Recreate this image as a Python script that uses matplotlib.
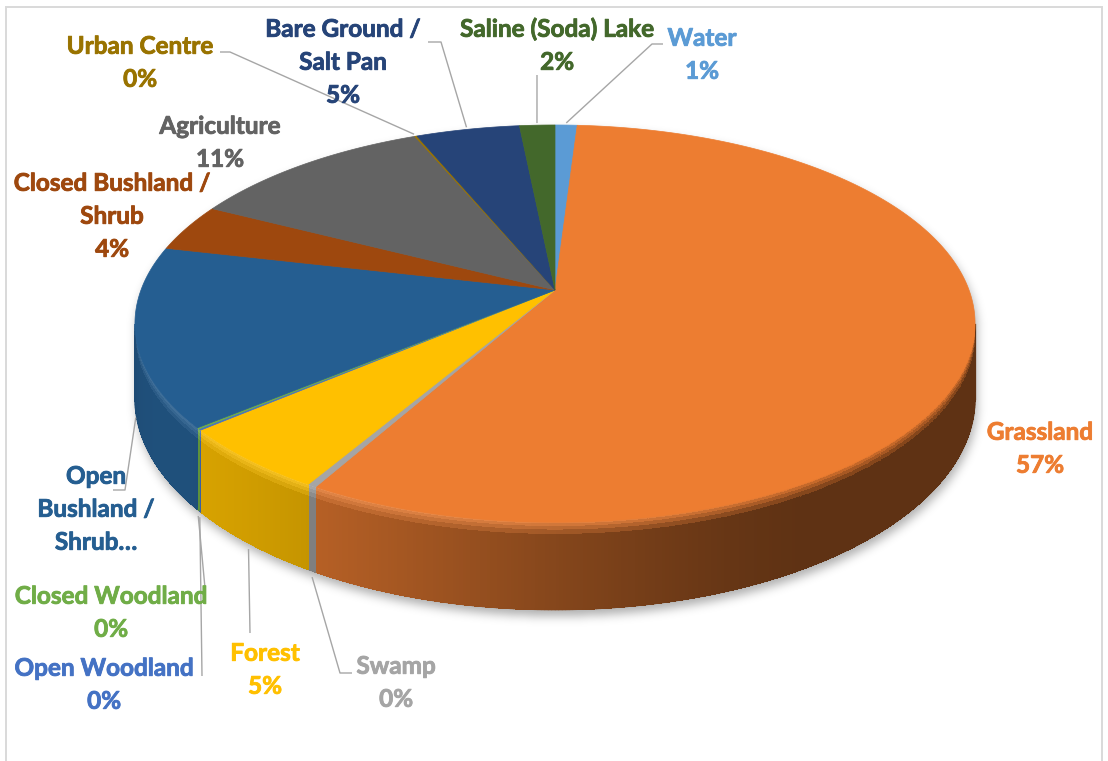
import numpy as np
import matplotlib
matplotlib.use("Agg")
import matplotlib.pyplot as plt
import matplotlib.patheffects as pe
from matplotlib.collections import PolyCollection, LineCollection
from matplotlib.colors import to_rgb

# ---- data -------------------------------------------------------------
categories = ["Water", "Grassland", "Swamp", "Forest", "Open Woodland",
              "Closed Woodland", "Open Bushland / Shrub",
              "Closed Bushland / Shrub", "Agriculture", "Urban Centre",
              "Bare Ground / Salt Pan", "Saline (Soda) Lake"]
shares = [1.0, 57.2, 0.3, 5.3, 0.1, 0.1, 14.6, 3.9, 11.1, 0.1, 4.7, 1.6]
colors = ["#5B9BD5", "#ED7D31", "#A5A5A5", "#FFC000", "#4472C4", "#70AD47",
          "#255E91", "#9E480E", "#636363", "#997300", "#264478", "#43682B"]
label_lines = [["Water"], ["Grassland"], ["Swamp"], ["Forest"],
               ["Open Woodland"], ["Closed Woodland"],
               ["Open", "Bushland /", "Shrub…"], ["Closed Bushland /", "Shrub"],
               ["Agriculture"], ["Urban Centre"], ["Bare Ground /", "Salt Pan"],
               ["Saline (Soda) Lake"]]
show_percent = [True, True, True, True, True, True,
                False, True, True, True, True, True]

# ---- layout -----------------------------------------------------------
W, H = 1108, 761
cx, cy = 555.0, 290.0        # pie apex on screen
a, b = 414.0, 192.9          # plan radii
k = 0.169                    # perspective strength
depth = 73.0                 # wall height
FONT = "Lato"
FS = 17.5
LINE_STEP = 33

label_pos = {
    0: (702, 37), 1: (1040, 431), 2: (396, 665), 3: (265, 652),
    4: (104, 667), 5: (111, 595), 6: (96, 475), 7: (112, 182),
    8: (220, 125), 9: (140, 45), 10: (343, 28), 11: (557, 28),
}
# leader lines: where they start (top rim or wall base) and where they go
leaders = {
    0: ("rim", [(652, 44), (663, 44)]),
    11: ("rim", [(537, 75)]),
    10: ("rim", [(441, 42), (428, 42)]),
    9: ("rim", [(230, 52), (220, 52)]),
    6: ("base", [(125, 490), (113, 490)]),
    5: ("base", [(205, 588)]),
    4: ("base", [(202, 676)]),
    3: ("base", [(250, 633)]),
    2: ("base", [(340, 673), (352, 673)]),
}


def proj(theta_deg, r=1.0, z=0.0):
    t = np.radians(theta_deg)
    u = r * np.sin(t)
    v = -r * np.cos(t)
    w = 1 - k * v
    return cx + a * u / w, cy + (b * v + depth * z) / w


def shade(theta_deg):
    c = np.cos(np.radians(theta_deg - 238))
    return 0.40 + 0.45 * max(c, 0.0) ** 1.6


def blur(img, s):
    r = int(3 * s)
    t = np.arange(-r, r + 1)
    g = np.exp(-t ** 2 / (2 * s * s))
    g /= g.sum()
    img = np.apply_along_axis(lambda m: np.convolve(m, g, mode="same"), 0, img)
    img = np.apply_along_axis(lambda m: np.convolve(m, g, mode="same"), 1, img)
    return img


total = sum(shares)
fracs = np.array(shares) / total
bounds = np.concatenate([[0], np.cumsum(fracs)]) * 360.0

fig = plt.figure(figsize=(W / 100, H / 100), dpi=100)
ax = fig.add_axes([0, 0, 1, 1])
ax.set_xlim(0, W)
ax.set_ylim(H, 0)
ax.axis("off")

# ---- soft drop shadow under the pie ----------------------------------
yy, xx = np.mgrid[0:H, 0:W] + 0.5
mask = np.zeros((H, W))
X = xx - cx - 2
Y = yy - cy - 6
for z in np.linspace(0, 1, 9):
    v = (Y - depth * z) / (b + k * Y)
    u = X * (1 - k * v) / a
    mask = np.maximum(mask, (u * u + v * v <= 1).astype(float))
alpha = blur(mask, 5.0) * 0.32
shadow = np.zeros((H, W, 4))
shadow[..., 3] = alpha
ax.imshow(shadow, extent=(0, W, H, 0), zorder=0, interpolation="bilinear")

# ---- side wall --------------------------------------------------------
sil = np.degrees(np.arccos(-k))
vis_lo, vis_hi = sil, 360 - sil
z_edges = [0, 0.02, 0.05, 0.09, 0.14, 0.2, 0.3, 1.0]
polys, fcols = [], []
edge_segs, edge_cols = [], []
for i, col in enumerate(colors):
    t1, t2 = max(bounds[i], vis_lo), min(bounds[i + 1], vis_hi)
    if t2 <= t1:
        continue
    n = max(1, int(np.ceil((t2 - t1) / 0.4)))
    ts = np.linspace(t1, t2, n + 1)
    base = np.array(to_rgb(col))
    for ta, tb in zip(ts[:-1], ts[1:]):
        tm = 0.5 * (ta + tb)
        wall = base * shade(tm)
        lit = max(np.cos(np.radians(tm - 235)), 0)
        rim = base + (1 - base) * 0.18 * lit
        for za, zb in zip(z_edges[:-1], z_edges[1:]):
            zm = 0.5 * (za + zb)
            g = min(1.0, zm / 0.17) ** 0.8
            c = np.clip((1 - g) * rim + g * wall, 0, 1)
            xa, ya0 = proj(ta, z=za)
            xb, yb0 = proj(tb, z=za)
            _, ya1 = proj(ta, z=zb)
            _, yb1 = proj(tb, z=zb)
            polys.append([(xa, ya0), (xb, yb0), (xb, yb1), (xa, ya1)])
            fcols.append(c)
        # smooth outline along the base of the wall
        xa, ya = proj(ta, z=1.0)
        xb, yb = proj(tb, z=1.0)
        edge_segs.append([(xa, ya - 0.3), (xb, yb - 0.3)])
        edge_cols.append(wall)
ax.add_collection(PolyCollection(polys, facecolors=fcols, edgecolors="none",
                                 linewidths=0, antialiaseds=False, zorder=1))
ax.add_collection(LineCollection(edge_segs, colors=edge_cols, linewidths=0.9,
                                 zorder=1.1, capstyle="round"))
# silhouette edges of the wall
for t in (vis_lo, vis_hi):
    x0, y0 = proj(t, z=0.0)
    x1, y1 = proj(t, z=1.0)
    i = int(np.searchsorted(bounds, t) - 1)
    c = np.array(to_rgb(colors[i])) * shade(t)
    ax.plot([x0, x1], [y0, y1], color=c, lw=0.9, zorder=1.1)

# ---- top face ---------------------------------------------------------
for i, col in enumerate(colors):
    n = max(2, int(np.ceil((bounds[i + 1] - bounds[i]) / 0.2)))
    ts = np.linspace(bounds[i], bounds[i + 1], n + 1)
    px, py = proj(ts)
    pts = [(cx, cy)] + list(zip(px, py))
    ax.add_patch(plt.Polygon(pts, closed=True, facecolor=col, edgecolor=col,
                             linewidth=0.5, zorder=2))

# ---- leader lines -----------------------------------------------------
for i, (kind, path) in leaders.items():
    mid = 0.5 * (bounds[i] + bounds[i + 1])
    if kind == "rim":
        sx, sy = proj(mid, r=1.015, z=0)
    else:
        sx, sy = proj(mid, r=1.0, z=1.07)
    xs = [sx] + [p[0] for p in path]
    ys = [sy] + [p[1] for p in path]
    ax.plot(xs, ys, color="#A6A6A6", lw=1.0, zorder=3, solid_capstyle="butt")

# ---- data labels ------------------------------------------------------
em_px = FS * 100 / 72
for i, lines in enumerate(label_lines):
    lines = list(lines)
    if show_percent[i]:
        lines.append(f"{round(fracs[i] * 100):d}%")
    x0, y0 = label_pos[i]
    for j, s in enumerate(lines):
        ax.text(x0, y0 + j * LINE_STEP + 0.36 * em_px, s, ha="center",
                va="baseline", fontsize=FS, fontweight="bold",
                family=FONT, color=colors[i], zorder=4,
                path_effects=[pe.withStroke(linewidth=0.6,
                                            foreground=colors[i])])

# ---- chart frame ------------------------------------------------------
ax.plot([6, 6, 1102, 1102], [H + 5, 7, 7, H + 5], color="#D9D9D9",
        lw=1.4, zorder=5, solid_joinstyle="miter")

fig.savefig("out.png", dpi=100, facecolor="white")
